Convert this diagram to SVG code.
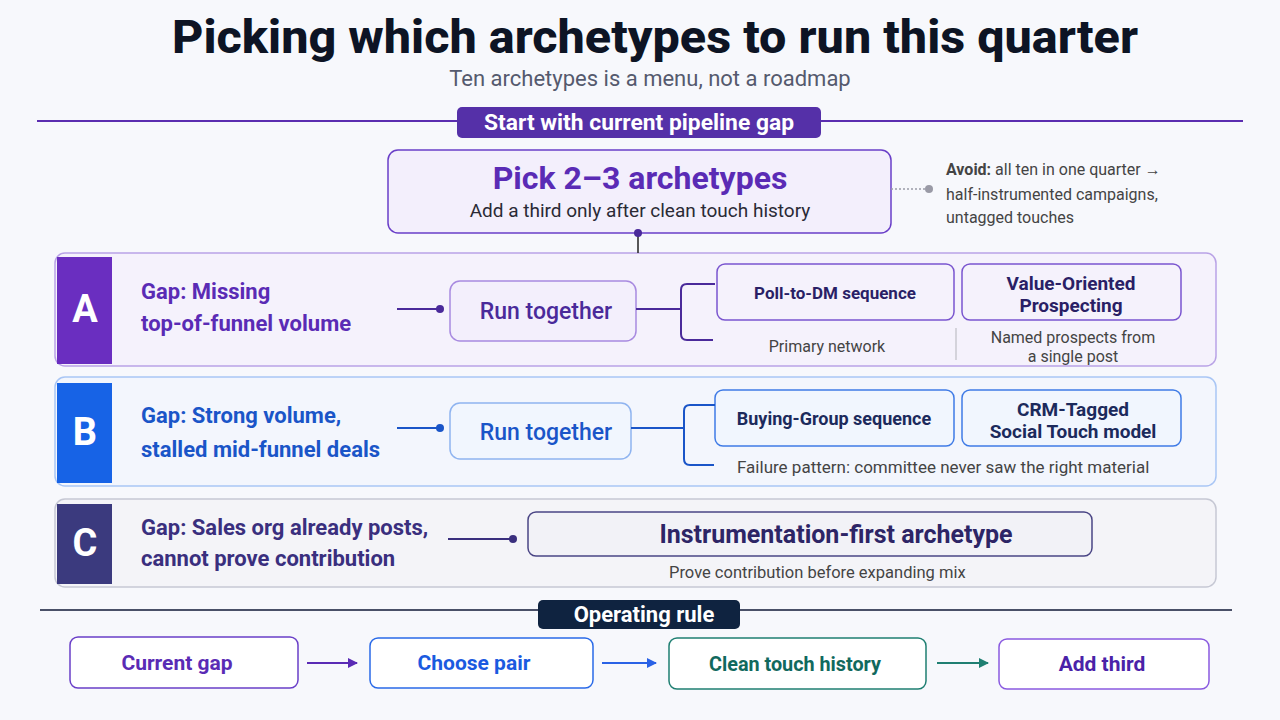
<svg xmlns="http://www.w3.org/2000/svg" width="1280" height="720" viewBox="0 0 1280 720">
<defs>
<style>
text{font-family:Roboto,"Liberation Sans",sans-serif}
.title{font-size:46px;font-weight:800;fill:#0d1424}
.sub{font-size:22px;fill:#555a6e}
.b{font-weight:700}
.small{font-size:16px;fill:#444}
.letter{font-size:38px;font-weight:700;fill:#fff}
.gap{font-size:22px;font-weight:700}
.cb{font-size:17px;font-weight:700}
</style>
<marker id="ap" viewBox="0 0 10 10" refX="9" refY="5" markerWidth="10" markerHeight="10" markerUnits="userSpaceOnUse" orient="auto"><path d="M0,0 L10,5 L0,10 z" fill="#5a2bb5"/></marker>
<marker id="ab" viewBox="0 0 10 10" refX="9" refY="5" markerWidth="10" markerHeight="10" markerUnits="userSpaceOnUse" orient="auto"><path d="M0,0 L10,5 L0,10 z" fill="#2a62e6"/></marker>
<marker id="at" viewBox="0 0 10 10" refX="9" refY="5" markerWidth="10" markerHeight="10" markerUnits="userSpaceOnUse" orient="auto"><path d="M0,0 L10,5 L0,10 z" fill="#1f7f72"/></marker>
</defs>
<rect width="1280" height="720" fill="#f7f8fc"/>

<g id="header">
<text class="title" x="655" y="53" text-anchor="middle" textLength="966" lengthAdjust="spacingAndGlyphs">Picking which archetypes to run this quarter</text>
<text class="sub" x="650" y="86" text-anchor="middle">Ten archetypes is a menu, not a roadmap</text>
<line x1="37" y1="121" x2="1243" y2="121" stroke="#5b2db0" stroke-width="2"/>
<rect x="457" y="107" width="364" height="31" rx="5" fill="#5530a8"/>
<text x="639" y="130" text-anchor="middle" class="b" font-size="22" fill="#fff" textLength="310" lengthAdjust="spacingAndGlyphs">Start with current pipeline gap</text>
</g>

<g id="pick">
<rect x="388" y="150" width="503" height="83" rx="10" fill="#f3effc" stroke="#6a3fc8" stroke-width="1.5"/>
<text x="640" y="189" text-anchor="middle" class="b" font-size="32" fill="#5a2bb5">Pick 2–3 archetypes</text>
<text x="640" y="217" text-anchor="middle" font-size="19" fill="#2a2a35">Add a third only after clean touch history</text>
</g>

<g id="avoid">
<text x="946" y="175" font-size="16" fill="#444"><tspan class="b">Avoid:</tspan> all ten in one quarter →</text>
<text x="946" y="200" font-size="16" fill="#444">half-instrumented campaigns,</text>
<text x="946" y="223" font-size="16" fill="#444">untagged touches</text>
</g>

<g id="rowA">
<rect x="55" y="253" width="1161" height="113" rx="10" fill="#f5f2fc" stroke="#b9a3e6" stroke-width="1.5"/>
<path d="M57,257 h55 v107 h-55 z" fill="#6a2ec0"/>
<text class="letter" x="85" y="322" text-anchor="middle">A</text>
<text class="gap" x="141" y="299" fill="#5a2bb5">Gap: Missing</text>
<text class="gap" x="141" y="331" fill="#5a2bb5">top-of-funnel volume</text>
<rect x="450" y="281" width="186" height="60" rx="10" fill="#f3effc" stroke="#a88ae0" stroke-width="1.5"/>
<text x="546" y="319" text-anchor="middle" font-size="23" font-weight="500" fill="#4a2a9a">Run together</text>
<rect x="717" y="264" width="237" height="56" rx="8" fill="#f5f2fc" stroke="#7a55cf" stroke-width="1.5"/>
<text class="cb" x="835" y="299" text-anchor="middle" fill="#2a1f66">Poll-to-DM sequence</text>
<rect x="962" y="264" width="219" height="56" rx="8" fill="#f5f2fc" stroke="#7a55cf" stroke-width="1.5"/>
<text x="1071" y="290" text-anchor="middle" class="b" font-size="19" fill="#2a1f66">Value-Oriented</text>
<text x="1071" y="312" text-anchor="middle" class="b" font-size="19" fill="#2a1f66">Prospecting</text>
<text class="small" x="827" y="352" text-anchor="middle">Primary network</text>
<line x1="956" y1="328" x2="956" y2="360" stroke="#c8c8d0" stroke-width="1.5"/>
<text class="small" x="1073" y="343" text-anchor="middle">Named prospects from</text>
<text class="small" x="1073" y="362" text-anchor="middle">a single post</text>
</g>

<g id="rowB">
<rect x="55" y="377" width="1161" height="109" rx="10" fill="#f3f6fd" stroke="#a9c6f5" stroke-width="1.5"/>
<path d="M57,383 h55 v100 h-55 z" fill="#1763e6"/>
<text class="letter" x="85" y="445" text-anchor="middle">B</text>
<text class="gap" x="141" y="423" fill="#1a55c8">Gap: Strong volume,</text>
<text class="gap" x="141" y="457" fill="#1a55c8">stalled mid-funnel deals</text>
<rect x="450" y="403" width="181" height="56" rx="10" fill="#f1f6fe" stroke="#8fb4f0" stroke-width="1.5"/>
<text x="546" y="440" text-anchor="middle" font-size="23" font-weight="500" fill="#1a55c8">Run together</text>
<rect x="715" y="390" width="239" height="56" rx="8" fill="#f1f6fe" stroke="#3f7be6" stroke-width="1.5"/>
<text x="834" y="425" text-anchor="middle" class="b" font-size="18" fill="#1c2a5c">Buying-Group sequence</text>
<rect x="962" y="390" width="219" height="56" rx="8" fill="#f1f6fe" stroke="#3f7be6" stroke-width="1.5"/>
<text x="1073" y="416" text-anchor="middle" class="b" font-size="19" fill="#1c2a5c">CRM-Tagged</text>
<text x="1073" y="438" text-anchor="middle" class="b" font-size="19" fill="#1c2a5c">Social Touch model</text>
<text x="737" y="473" font-size="17" fill="#444">Failure pattern: committee never saw the right material</text>
</g>

<g id="rowC">
<rect x="55" y="499" width="1161" height="88" rx="10" fill="#f4f4f8" stroke="#c6c8d4" stroke-width="1.5"/>
<path d="M57,504 h55 v80 h-55 z" fill="#3b3a7e"/>
<text class="letter" x="85" y="556" text-anchor="middle">C</text>
<text class="gap" x="141" y="535" fill="#3a2f7e">Gap: Sales org already posts,</text>
<text class="gap" x="141" y="566" fill="#3a2f7e">cannot prove contribution</text>
<rect x="528" y="512" width="564" height="44" rx="8" fill="#f2f2f7" stroke="#4a4585" stroke-width="1.5"/>
<text x="836" y="543" text-anchor="middle" class="b" font-size="25" fill="#2d2566">Instrumentation-first archetype</text>
<text x="669" y="578" font-size="16.5" fill="#444">Prove contribution before expanding mix</text>
</g>

<g id="rule">
<line x1="40" y1="610" x2="1232" y2="610" stroke="#4a5068" stroke-width="2"/>
<rect x="538" y="600" width="202" height="29" rx="5" fill="#0f2340"/>
<text x="644" y="622" text-anchor="middle" class="b" font-size="22" fill="#fff">Operating rule</text>
</g>

<g id="step1">
<rect x="70" y="637" width="228" height="51" rx="8" fill="#fff" stroke="#6a3fc8" stroke-width="1.5"/>
<text x="177" y="670" text-anchor="middle" class="b" font-size="21" fill="#5a2bb5">Current gap</text>
</g>
<g id="step2">
<rect x="370" y="638" width="223" height="50" rx="8" fill="#fff" stroke="#2a6ae8" stroke-width="1.5"/>
<text x="474" y="670" text-anchor="middle" class="b" font-size="21" fill="#1a5ae0">Choose pair</text>
</g>
<g id="step3">
<rect x="669" y="638" width="257" height="51" rx="8" fill="#fff" stroke="#1f7f72" stroke-width="1.5"/>
<text x="795" y="671" text-anchor="middle" class="b" font-size="21" fill="#11695e" textLength="172" lengthAdjust="spacingAndGlyphs">Clean touch history</text>
</g>
<g id="step4">
<rect x="999" y="639" width="210" height="50" rx="8" fill="#fff" stroke="#8a5ae0" stroke-width="1.5"/>
<text x="1102" y="671" text-anchor="middle" class="b" font-size="21" fill="#4a22a8">Add third</text>
</g>

<g id="connectors" fill="none" stroke-width="2">
<line x1="891" y1="189" x2="926" y2="189" stroke="#9a9aa6" stroke-width="1.5" stroke-dasharray="2 2"/>
<circle cx="929" cy="189" r="4" fill="#9a9aa6" stroke="none"/>
<line x1="638" y1="233" x2="638" y2="253" stroke="#222" stroke-width="1.5"/>
<circle cx="638" cy="233" r="4" fill="#4a2a9a" stroke="none"/>
<line x1="397" y1="309" x2="440" y2="309" stroke="#4a2a9a"/>
<circle cx="440" cy="309" r="4" fill="#4a2a9a" stroke="none"/>
<path d="M636,309 H681 M715,284 H687 Q681,284 681,290 V334 Q681,340 687,340 H713" stroke="#4a2a9a"/>
<line x1="397" y1="428" x2="440" y2="428" stroke="#1a55c8"/>
<circle cx="440" cy="428" r="4" fill="#1a55c8" stroke="none"/>
<path d="M631,428 H684 M715,405 H690 Q684,405 684,411 V459 Q684,465 690,465 H714" stroke="#1a55c8"/>
<line x1="448" y1="539" x2="513" y2="539" stroke="#3a2f7e"/>
<circle cx="513" cy="539" r="4" fill="#3a2f7e" stroke="none"/>
<line x1="307" y1="663" x2="357" y2="663" stroke="#5a2bb5" marker-end="url(#ap)"/>
<line x1="602" y1="663" x2="656" y2="663" stroke="#2a62e6" marker-end="url(#ab)"/>
<line x1="937" y1="663" x2="988" y2="663" stroke="#1f7f72" marker-end="url(#at)"/>
</g>
</svg>
